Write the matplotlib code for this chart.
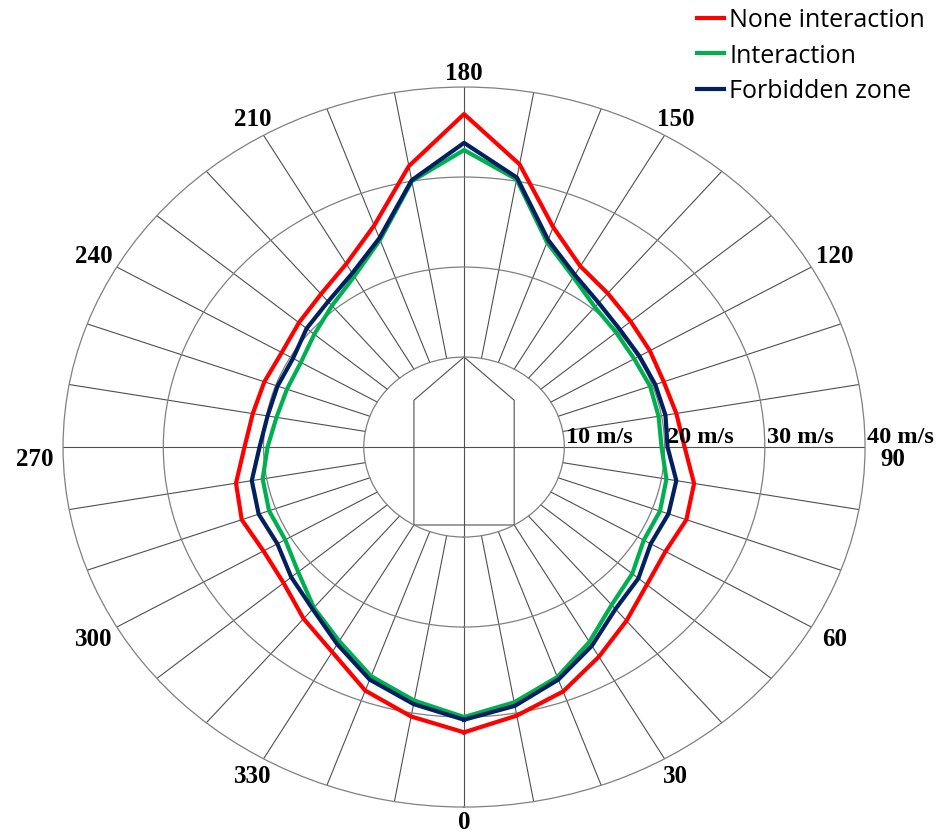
import numpy as np
import matplotlib
matplotlib.use('Agg')
import matplotlib.pyplot as plt

# wind direction (deg) and speed (m/s) every 10 deg
angles = list(range(0, 360, 10))
none_inter = [31.7, 30.3, 28.9, 26.9, 25.2, 23.8, 23.2, 23.6, 23.3, 22.0, 21.5, 21.2,
              21.4, 21.7, 22.3, 23.2, 26.0, 31.9, 37.0, 31.7, 26.2, 23.5, 22.2, 21.5,
              21.0, 21.2, 21.4, 21.9, 23.1, 23.6, 23.1, 23.5, 24.9, 26.3, 28.8, 30.4]
inter = [30.0, 28.8, 27.2, 25.0, 22.9, 21.9, 20.7, 20.8, 20.5, 19.7, 19.7, 19.75,
         19.6, 19.8, 20.3, 21.8, 24.2, 30.2, 33.0, 30.0, 24.5, 21.9, 20.5, 19.5,
         18.8, 18.8, 19.0, 19.6, 20.4, 20.7, 20.6, 21.6, 23.3, 24.9, 27.1, 28.6]
forbidden = [30.3, 29.2, 27.5, 25.5, 23.5, 22.7, 21.5, 21.7, 21.5, 20.3, 20.4, 20.3,
             20.2, 20.3, 20.9, 22.1, 24.5, 30.4, 33.8, 30.1, 24.7, 22.3, 21.1, 20.5,
             19.7, 19.8, 19.9, 20.4, 21.5, 21.8, 21.5, 22.5, 23.5, 25.3, 27.5, 29.0]
speed_ticks = [10, 20, 30, 40]
dir_ticks = list(range(0, 360, 30))

# ship outline (x, y in m/s units, bow up)
ship_x = [0, 5, 5, -5, -5, 0]
ship_y = [10, 5.2, -8.66, -8.66, 5.2, 10]

fig = plt.figure(figsize=(9.41, 8.37), dpi=100)
ax = fig.add_axes([0.067, 0.0346, 0.8523, 0.8602], projection='polar')
ax.set_aspect('auto')
ax.set_theta_zero_location('S')
ax.set_theta_direction(1)
ax.set_ylim(0, 40)

ax.set_rgrids(speed_ticks[:-1])
ax.set_yticklabels([])
ax.set_xticks([])
ax.xaxis.grid(False)
ax.yaxis.grid(True, color='#808080', lw=0.9)
ax.spines['polar'].set_color('#808080')
ax.spines['polar'].set_linewidth(0.9)

# spokes start at the 10 m/s ring, main axes go through the centre
for a in angles:
    r0 = 0 if a % 90 == 0 else 10
    ax.plot([np.deg2rad(a)] * 2, [r0, 40], color='#505050', lw=0.8, zorder=1)

sx = np.array(ship_x, dtype=float)
sy = np.array(ship_y, dtype=float)
ax.plot(np.arctan2(sx, -sy), np.hypot(sx, sy), color='#505050', lw=0.8, zorder=1)

th = np.deg2rad(angles + [angles[0]])
l1, = ax.plot(th, none_inter + [none_inter[0]], color='#ff0000', lw=3.0, zorder=3,
              label='None interaction')
l2, = ax.plot(th, inter + [inter[0]], color='#00b050', lw=3.0, zorder=3,
              label='Interaction')
l3, = ax.plot(th, forbidden + [forbidden[0]], color='#002060', lw=3.0, zorder=4,
              label='Forbidden zone')

serif = dict(family='Liberation Serif', weight='bold')
for v in speed_ticks:
    ax.text(np.pi / 2, v + 0.2, f'{v} m/s', ha='left', va='bottom', fontsize=17.5,
            zorder=5, **serif)

for a in dir_ticks:
    t = np.deg2rad(a)
    r = 41.6 + 1.2 * abs(np.sin(t))
    txt = ax.text(t, r, str(a), ha='center', va='center', fontsize=18, **serif)
    if a in (90, 270):
        txt.set_va('top')

ax.legend(handles=[l1, l2, l3], loc='upper left', bbox_to_anchor=(0.738, 0.993),
          bbox_transform=fig.transFigure, frameon=False,
          prop={'family': 'Open Sans', 'size': 18},
          handlelength=1.1, handletextpad=0.2, labelspacing=0.42, borderaxespad=0,
          borderpad=0.1)

fig.savefig('out.png', dpi=100)
